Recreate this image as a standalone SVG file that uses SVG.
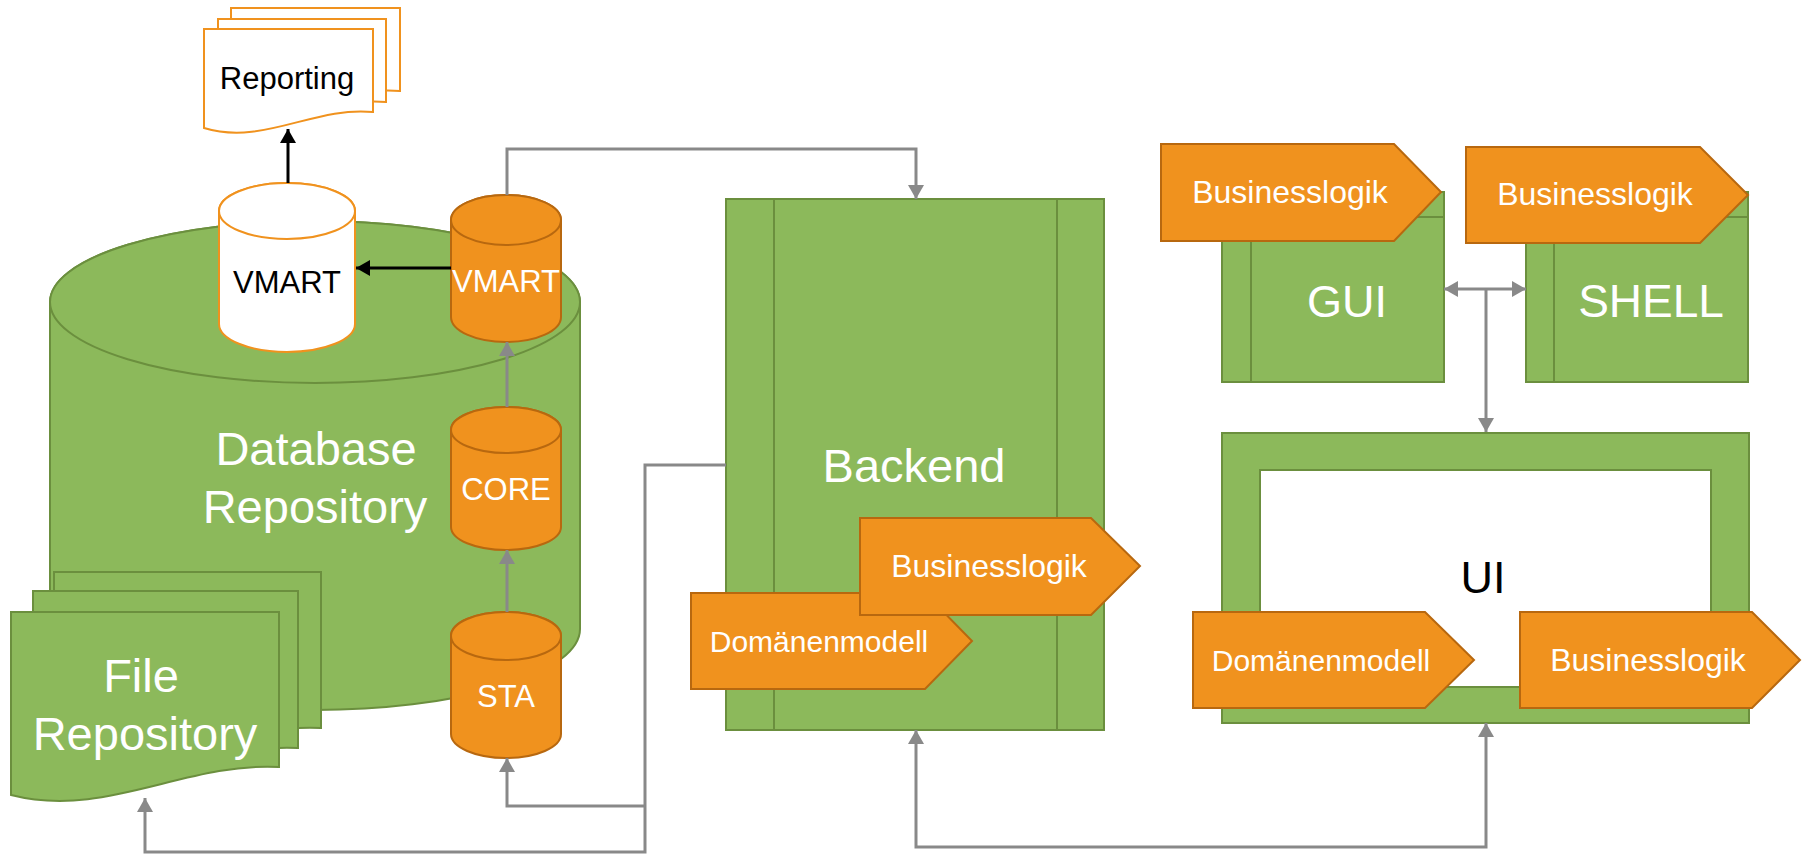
<svg xmlns="http://www.w3.org/2000/svg" width="1803" height="856" viewBox="0 0 1803 856">
<style>
.g{fill:#8cb95b;stroke:#6b8f3e;stroke-width:2}
.gl{fill:none;stroke:#6b8f3e;stroke-width:2}
.o{fill:#f0921e;stroke:#b8680f;stroke-width:2}
.ow{fill:#fff;stroke:#f0921e;stroke-width:2}
.t{font-family:"Liberation Sans",Arial,sans-serif;text-anchor:middle}
.w{fill:#fff}
.k{fill:#000}
.s31{font-size:31px}
.s32{font-size:32px}
.s30{font-size:30px}
.s47{font-size:47px}
.c{fill:none;stroke:#898989;stroke-width:3}
.b{fill:none;stroke:#000;stroke-width:3}
</style>
<defs>
<marker id="ag" viewBox="0 0 14 16" refX="14" refY="8" markerWidth="14" markerHeight="16" markerUnits="userSpaceOnUse" orient="auto-start-reverse"><path d="M0,0 L14,8 L0,16 Z" fill="#898989"/></marker>
<marker id="ab" viewBox="0 0 14 16" refX="14" refY="8" markerWidth="14" markerHeight="16" markerUnits="userSpaceOnUse" orient="auto-start-reverse"><path d="M0,0 L14,8 L0,16 Z" fill="#000"/></marker>
</defs>

<g id="database-repository">
<path class="g" d="M50,302 V629 A265,81 0 0 0 580,629 V302 A265,81 0 0 0 50,302 Z"/>
<ellipse class="g" cx="315" cy="302" rx="265" ry="81"/>
<text class="t w s47" x="316" y="465">Database</text>
<text class="t w s47" x="315" y="523">Repository</text>
</g>

<g id="reporting">
<path class="ow" d="M231,8 H400 V91 C341,85 290,125 231,107 Z"/>
<path class="ow" d="M218,19 H386 V102 C327,96 277,136 218,118 Z"/>
<path class="ow" d="M204,29 H373 V112 C314,106 263,146 204,128 Z"/>
<text class="t k s31" x="287" y="89">Reporting</text>
</g>

<g id="vmart-report">
<path class="ow" d="M219,211 V324 A68,28 0 0 0 355,324 V211 A68,28 0 0 0 219,211 Z"/>
<ellipse class="ow" cx="287" cy="211" rx="68" ry="28"/>
<text class="t k s31" x="287" y="293">VMART</text>
</g>

<g id="file-repository">
<path class="g" d="M54,572 H321 V728 C228,723 148,782 54,758 Z"/>
<path class="g" d="M33,591 H298 V748 C205,743 126,802 33,778 Z"/>
<path class="g" d="M11,612 H279 V767 C185,762 105,819 11,795 Z"/>
<text class="t w s47" x="141" y="692">File</text>
<text class="t w s47" x="145" y="750">Repository</text>
</g>

<g id="vmart">
<path class="o" d="M451,220 V317 A55,25 0 0 0 561,317 V220 A55,25 0 0 0 451,220 Z"/>
<ellipse class="o" cx="506" cy="220" rx="55" ry="25"/>
<text class="t w s31" x="506" y="292">VMART</text>
</g>

<g id="core">
<path class="o" d="M451,430 V527 A55,23 0 0 0 561,527 V430 A55,23 0 0 0 451,430 Z"/>
<ellipse class="o" cx="506" cy="430" rx="55" ry="23"/>
<text class="t w s31" x="506" y="500">CORE</text>
</g>

<g id="sta">
<path class="o" d="M451,636 V734 A55,24 0 0 0 561,734 V636 A55,24 0 0 0 451,636 Z"/>
<ellipse class="o" cx="506" cy="636" rx="55" ry="24"/>
<text class="t w s31" x="506" y="707">STA</text>
</g>

<g id="backend">
<rect class="g" x="726" y="199" width="378" height="531"/>
<path class="gl" d="M774,199 V730 M1057,199 V730"/>
<text class="t w s47" x="914" y="482">Backend</text>
</g>

<g id="backend-domaenenmodell">
<path class="o" d="M691,593 H925 L972,641 L925,689 H691 Z"/>
<text class="t w s30" x="819" y="652">Domänenmodell</text>
</g>

<g id="backend-businesslogik">
<path class="o" d="M860,518 H1091 L1140,566 L1091,615 H860 Z"/>
<text class="t w s32" x="989" y="577">Businesslogik</text>
</g>

<g id="gui">
<rect class="g" x="1222" y="192" width="222" height="190"/>
<path class="gl" d="M1251,192 V382 M1222,217 H1444"/>
<text class="t w" style="font-size:45px" x="1347" y="317">GUI</text>
</g>

<g id="gui-businesslogik">
<path class="o" d="M1161,144 H1394 L1441,192 L1394,241 H1161 Z"/>
<text class="t w s32" x="1290" y="203">Businesslogik</text>
</g>

<g id="shell">
<rect class="g" x="1526" y="192" width="222" height="190"/>
<path class="gl" d="M1554,192 V382 M1526,217 H1748"/>
<text class="t w" style="font-size:46px" x="1651" y="317">SHELL</text>
</g>

<g id="shell-businesslogik">
<path class="o" d="M1466,147 H1700 L1748,195 L1700,243 H1466 Z"/>
<text class="t w s32" x="1595" y="205">Businesslogik</text>
</g>

<g id="ui">
<path class="g" fill-rule="evenodd" d="M1222,433 H1749 V723 H1222 Z M1260,470 V687 H1711 V470 Z"/>
<text class="t k" style="font-size:45px" x="1483" y="593">UI</text>
</g>

<g id="ui-domaenenmodell">
<path class="o" d="M1193,612 H1425 L1474,660 L1425,708 H1193 Z"/>
<text class="t w s30" x="1321" y="671">Domänenmodell</text>
</g>

<g id="ui-businesslogik">
<path class="o" d="M1520,612 H1752 L1800,660 L1752,708 H1520 Z"/>
<text class="t w s32" x="1648" y="671">Businesslogik</text>
</g>

<g id="connectors">
<path class="c" d="M507,195 V149 H916 V199" marker-end="url(#ag)"/>
<path class="c" d="M507,407 V342" marker-end="url(#ag)"/>
<path class="c" d="M507,612 V550" marker-end="url(#ag)"/>
<path class="c" d="M726,465 H645 V852 H145 V798" marker-end="url(#ag)"/>
<path class="c" d="M645,806 H507 V758" marker-end="url(#ag)"/>
<path class="c" d="M916,730 V847 H1486 V723" marker-start="url(#ag)" marker-end="url(#ag)"/>
<path class="c" d="M1444,289 H1526" marker-start="url(#ag)" marker-end="url(#ag)"/>
<path class="c" d="M1486,289 V432" marker-end="url(#ag)"/>
<path class="b" d="M288,183 V129" marker-end="url(#ab)"/>
<path class="b" d="M451,268 H356" marker-end="url(#ab)"/>
</g>
</svg>
